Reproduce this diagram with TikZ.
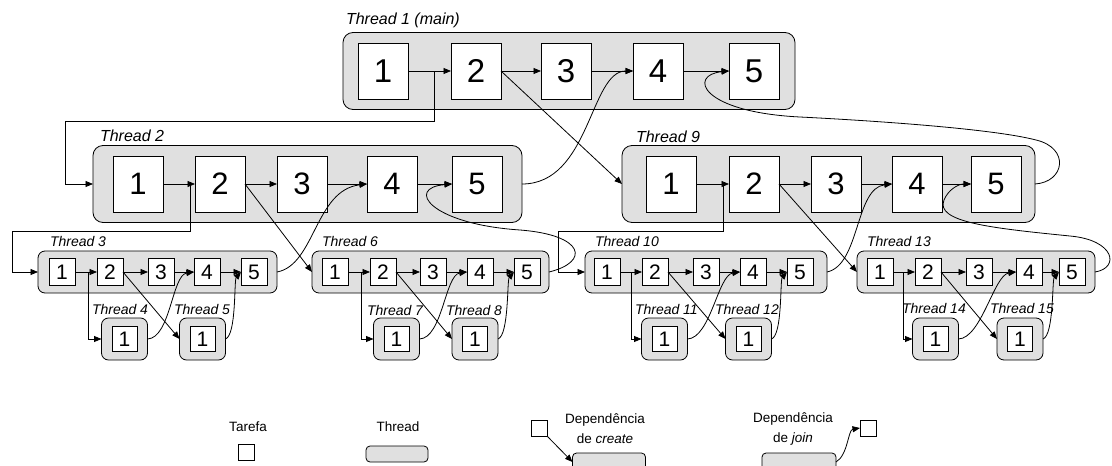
\documentclass[tikz,border=0pt]{standalone}
\usepackage{fontspec}
\setmainfont{Liberation Sans}
\usetikzlibrary{arrows.meta}
\definecolor{thrgray}{RGB}{224,224,224}
\tikzset{
  every node/.style={inner sep=0pt, outer sep=0pt},
  thrA/.style={draw, fill=thrgray, line width=0.8pt, rounded corners=10pt, minimum height=77pt},
  thrB/.style={draw, fill=thrgray, line width=0.8pt, rounded corners=7pt, minimum height=42pt},
  thrC/.style={thrB, minimum width=46pt},
  taskA/.style={draw, fill=white, line width=0.8pt, minimum width=50pt, minimum height=56pt, font=\fontsize{33}{33}\selectfont},
  taskB/.style={taskA, font=\fontsize{31}{31}\selectfont},
  taskC/.style={draw, fill=white, line width=0.8pt, minimum width=26pt, minimum height=27pt, font=\fontsize{21}{21}\selectfont},
  taskD/.style={taskC, minimum width=25pt, minimum height=25pt},
  lblA/.style={anchor=west, font=\fontsize{16}{16}\selectfont\itshape},
  lblB/.style={anchor=west, font=\fontsize{14}{14}\selectfont\itshape},
  arr/.style={line width=0.8pt, -{Triangle[length=7.5pt,width=6pt]}},
  legtxt/.style={font=\fontsize{13.5}{20}\selectfont, align=center},
  legsq/.style={draw, fill=white, line width=0.8pt, minimum width=16pt, minimum height=16pt},
  legrr/.style={draw, fill=thrgray, line width=0.8pt, rounded corners=4pt, minimum height=18pt},
}
\begin{document}
\begin{tikzpicture}[x=1pt,y=-1pt]
\useasboundingbox (0,0) rectangle (1112,466);
\clip (0,0) rectangle (1112,466);

% thread containers
\node[thrA, minimum width=452pt] (t1) at (569,71) {};
\node[thrA, minimum width=429pt] (t2) at (307.5,184) {};
\node[thrA, minimum width=413pt] (t9) at (828.5,184) {};
\node[thrB, minimum width=239pt] (t3) at (157.5,272) {};
\node[thrB, minimum width=237pt] (t6) at (430.5,272) {};
\node[thrB, minimum width=242pt] (t10) at (706,272) {};
\node[thrB, minimum width=238pt] (t13) at (976,272) {};
\node[thrC] (t4) at (124.5,339) {};
\node[thrC] (t5) at (202.5,339) {};
\node[thrC] (t7) at (396.5,339) {};
\node[thrC] (t8) at (475,339) {};
\node[thrC] (t11) at (664.5,339) {};
\node[thrC] (t12) at (748.5,339) {};
\node[thrC] (t14) at (935.5,339) {};
\node[thrC] (t15) at (1020,339) {};

% labels
\node[lblA] (l1) at (346,20) {Thread 1 (main)};
\node[lblA] (l2) at (100,136) {Thread 2};
\node[lblA] (l9) at (636,137) {Thread 9};
\node[lblB] (l3) at (50,241) {Thread 3};
\node[lblB] (l6) at (322,241) {Thread 6};
\node[lblB] (l10) at (595,241) {Thread 10};
\node[lblB] (l13) at (867,241) {Thread 13};
\node[lblB] (l4) at (92,309) {Thread 4};
\node[lblB] (l5) at (174,309) {Thread 5};
\node[lblB] (l7) at (367,310) {Thread 7};
\node[lblB] (l8) at (446,310) {Thread 8};
\node[lblB] (l11) at (635,309) {Thread 11};
\node[lblB] (l12) at (715,309) {Thread 12};
\node[lblB] (l14) at (902,308) {Thread 14};
\node[lblB] (l15) at (990,308) {Thread 15};

% tasks
\foreach \i/\x in {1/383,2/476,3/566,4/658,5/754} \node[taskA] (a\i) at (\x,71) {\i};
\foreach \i/\x in {1/138,2/220,3/302,4/392,5/477} \node[taskB] (b\i) at (\x,184) {\i};
\foreach \i/\x in {1/671,2/754,3/836,4/917,5/996} \node[taskB] (i\i) at (\x,184) {\i};
\foreach \i/\x in {1/62,2/110,3/161,4/207,5/254} \node[taskC] (c\i) at (\x,272) {\i};
\foreach \i/\x in {1/335,2/383,3/433,4/480,5/527} \node[taskC] (f\i) at (\x,272) {\i};
\foreach \i/\x in {1/607,2/655,3/706,4/753,5/800} \node[taskC] (j\i) at (\x,272) {\i};
\foreach \i/\x in {1/880,2/928,3/979,4/1029,5/1072} \node[taskC] (m\i) at (\x,272) {\i};
\node[taskD] (d1) at (t4) {1};
\node[taskD] (e1) at (t5) {1};
\node[taskD] (g1) at (t7) {1};
\node[taskD] (h1) at (t8) {1};
\node[taskD] (k1) at (t11) {1};
\node[taskD] (q1) at (t12) {1};
\node[taskD] (n1) at (t14) {1};
\node[taskD] (o1) at (t15) {1};

% sequence arrows
\foreach \p in {a,b,i,c,f,j,m}
  \foreach \u/\v in {1/2,2/3,3/4,4/5}
    \draw[arr] (\p\u.east) -- (\p\v.west);

% create (branch) connectors
\coordinate (br1) at (434,71);
\draw[arr] (br1) |- (65,121) |- (t2.west);
\coordinate (br2) at (190,184);
\draw[arr] (br2) |- (12,231) |- (t3.west);
\coordinate (br9) at (723,184);
\draw[arr] (br9) |- (558,231) |- (t10.west);
\coordinate (br3) at (88,272);
\draw[arr] (br3) |- (t4.west);
\coordinate (br6) at (361,272);
\draw[arr] (br6) |- (t7.west);
\coordinate (br10) at (631,272);
\draw[arr] (br10) |- (t11.west);
\coordinate (br13) at (903,272);
\draw[arr] (br13) |- (t14.west);

% create (diagonal) connectors
\draw[arr] (a2.east) -- (t9.west);
\draw[arr] (b2.east) -- (t6.west);
\draw[arr] (i2.east) -- (t13.west);
\draw[arr] (c2.east) -- (t5.west);
\draw[arr] (f2.east) -- (t8.west);
\draw[arr] (j2.east) -- (t12.west);
\draw[arr] (m2.east) -- (t15.west);

% joins, lowest level
\draw[arr] (t4.east) .. controls +(23,-1) and +(-22,3) .. (c4.west);
\draw[arr] (t5.east) .. controls +(11,-4) and +(-7,8) .. (c5.west);
\draw[arr] (t7.east) .. controls +(23,-1) and +(-22,3) .. (f4.west);
\draw[arr] (t8.east) .. controls +(11,-4) and +(-7,8) .. (f5.west);
\draw[arr] (t11.east) .. controls +(23,-1) and +(-22,3) .. (j4.west);
\draw[arr] (t12.east) .. controls +(11,-4) and +(-7,8) .. (j5.west);
\draw[arr] (t14.east) .. controls +(23,-1) and +(-22,3) .. (m4.west);
\draw[arr] (t15.east) .. controls +(11,-4) and +(-7,8) .. (m5.west);

% joins, upper levels
\draw[arr] (t2.east) .. controls +(68,0) and +(-43,0) .. (a4.west);
\draw[arr] (t9.east) .. controls (1065,182) and (1070,148) .. (1036,140)
   .. controls (990,128) and (860,120) .. (800,117)
   .. controls (700,112) and (688,75) .. (a5.west);
\draw[arr] (t3.east) .. controls +(38,-7) and +(-52,6) .. (b4.west);
\draw[arr] (t6.east) .. controls (590,262) and (585,235) .. (520,230)
   .. controls (430,224) and (405,188) .. (b5.west);
\draw[arr] (t10.east) .. controls +(33,-7) and +(-37,4) .. (i4.west);
\draw[arr] (t13.east) .. controls (1120,268) and (1115,240) .. (1070,236)
   .. controls (990,228) and (935,222) .. (944,200)
   .. controls (948,190) and (958,184) .. (i5.west);

% legend
\node[legtxt] (lt) at (248,427) {Tarefa};
\node[legsq] (lsq) at (246,452) {};
\node[legtxt] (lth) at (398,427) {Thread};
\node[legrr, minimum width=62pt, minimum height=16pt] (lrr) at (397,454) {};
\node[legtxt] (lc) at (605,429) {Dependência\\de \textit{create}};
\node[legsq] (lcs) at (539,428) {};
\node[legrr, minimum width=73pt] (lcr) at (609,462) {};
\draw[arr] (lcs.south east) -- (lcr.west);
\node[legtxt] (lj) at (793,429) {Dependência\\de \textit{join}};
\node[legsq] (ljs) at (868,428) {};
\node[legrr, minimum width=74pt] (ljr) at (799,462) {};
\draw[arr] (ljr.east) .. controls +(12,-7) and +(-12,2) .. (ljs.west);
\end{tikzpicture}
\end{document}
